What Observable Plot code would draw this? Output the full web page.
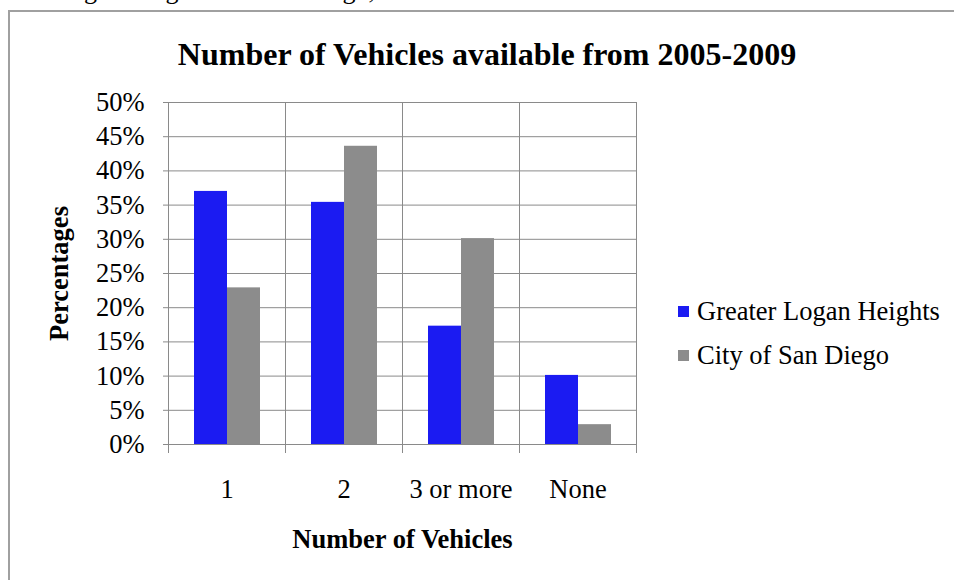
<!DOCTYPE html>
<html><head><meta charset="utf-8">
<script src="https://cdn.jsdelivr.net/npm/d3@7"></script>
<script src="https://cdn.jsdelivr.net/npm/@observablehq/plot@0.6"></script>
<style>
body{margin:0;background:#fff;}
#wrap{position:relative;width:954px;height:580px;overflow:hidden;font-family:"Liberation Serif","Times New Roman",serif;color:#000;}
#cut{position:absolute;left:55px;top:-22px;font-size:26px;line-height:1;white-space:nowrap;}
#box{position:absolute;left:8px;top:10px;width:1000px;height:700px;border-left:2px solid #a0a0a0;border-top:2px solid #a0a0a0;}
#title{position:absolute;left:0;width:974px;top:38px;text-align:center;font-weight:bold;font-size:32px;line-height:1;}
#chart{position:absolute;left:0;top:0;}
#legend{position:absolute;left:678px;top:289px;font-size:26.5px;line-height:44px;}
#legend .item{display:flex;align-items:center;white-space:nowrap;}
#legend .sw{display:inline-block;width:11px;height:11px;margin-right:8px;}
[aria-label$="axis label"]{font-weight:bold;}
</style>
</head><body>
<div id="wrap">
  <div id="cut">Logan Heights and San Diego, 2005-2009</div>
  <div id="box"></div>
  <div id="chart"></div>
  <div id="title">Number of Vehicles available from 2005-2009</div>
  <div id="legend"></div>
</div>
<script>
const categories = ["1", "2", "3 or more", "None"];
const series = ["Greater Logan Heights", "City of San Diego"];
const loganHeights = [0.370, 0.354, 0.173, 0.101];
const sanDiego = [0.229, 0.436, 0.301, 0.029];
const colors = ["#1b1bf2", "#8c8c8c"];
const yTicks = [0, 0.05, 0.10, 0.15, 0.20, 0.25, 0.30, 0.35, 0.40, 0.45, 0.50];

const data = [];
categories.forEach((c, i) => {
  data.push({category: c, series: series[0], value: loganHeights[i]});
  data.push({category: c, series: series[1], value: sanDiego[i]});
});

const grid = "#8a8a8a";
const chart = Plot.plot({
  width: 954,
  height: 580,
  marginLeft: 167,
  marginRight: 318,
  marginTop: 102,
  marginBottom: 136,
  style: {fontFamily: '"Liberation Serif", "Times New Roman", serif', fontSize: "26px", color: "#000", background: "transparent", overflow: "visible"},
  fx: {domain: categories, padding: 0, label: "Number of Vehicles"},
  x: {domain: series, paddingInner: 0, paddingOuter: 0.75, axis: null},
  y: {domain: [0, 0.5], label: "Percentages", labelArrow: false},
  color: {domain: series, range: colors},
  marks: [
    Plot.gridY(yTicks, {stroke: grid, strokeOpacity: 1}),
    Plot.frame({anchor: "left", insetBottom: -8, stroke: grid}),
    Plot.frame({anchor: "right", insetBottom: -8, stroke: grid}),
    Plot.barY(data, {fx: "category", x: "series", y: "value", fill: "series"}),
    Plot.axisY(yTicks, {tickFormat: d3.format(".0%"), tickSize: 5, tickPadding: 19, stroke: grid, fontSize: 26.5, label: "Percentages", labelArrow: false, labelAnchor: "center", labelOffset: 119}),
    Plot.axisFx({anchor: "bottom", tickSize: 0, tickPadding: 35, fontSize: 26.5, label: "Number of Vehicles", labelArrow: false, labelAnchor: "center", labelOffset: 103})
  ]
});
document.getElementById("chart").appendChild(chart);

const legend = document.getElementById("legend");
series.forEach((s, i) => {
  const item = document.createElement("div");
  item.className = "item";
  const sw = document.createElement("span");
  sw.className = "sw";
  sw.style.background = colors[i];
  item.appendChild(sw);
  item.appendChild(document.createTextNode(s));
  legend.appendChild(item);
});
</script>
</body></html>
